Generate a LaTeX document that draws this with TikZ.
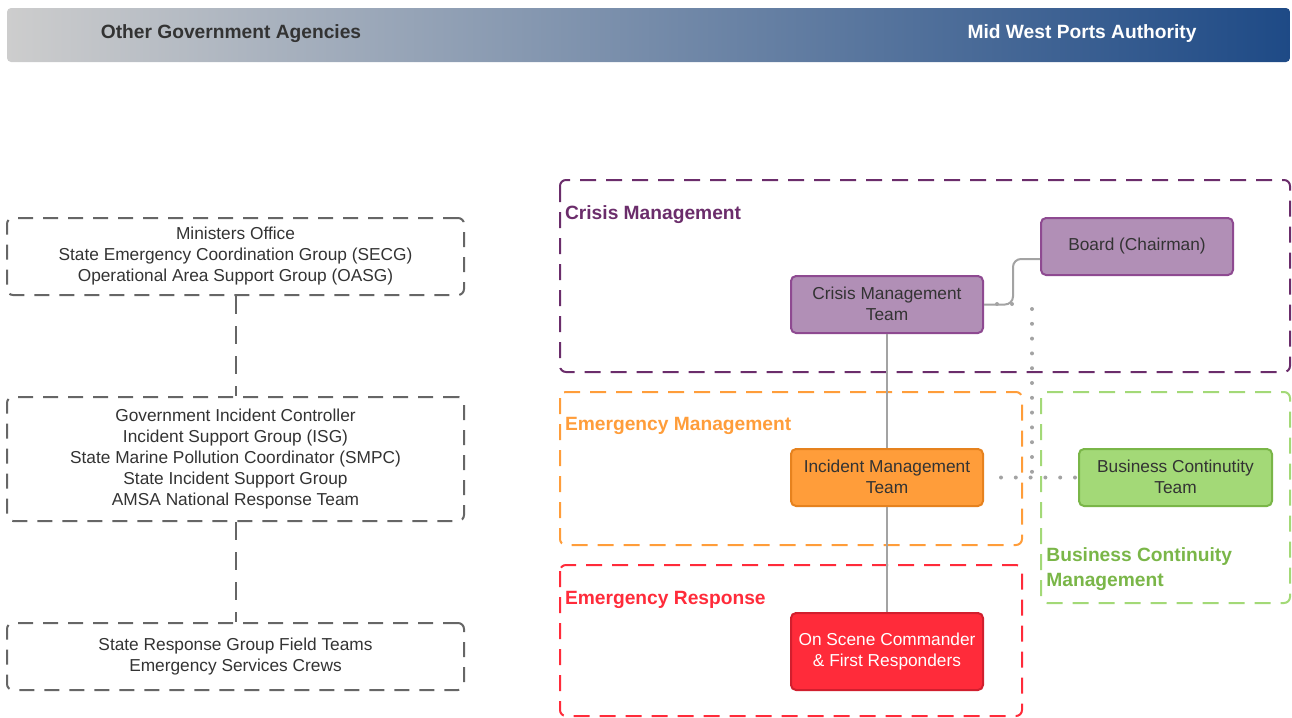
\documentclass[tikz,border=0pt]{standalone}
\usepackage{fontspec}
\setmainfont{Liberation Sans}

\definecolor{hdrgray}{HTML}{CDCDCD}
\definecolor{hdrblue}{HTML}{1E4A86}
\definecolor{txtdark}{HTML}{333333}
\definecolor{boxgray}{HTML}{666666}
\definecolor{linkgray}{HTML}{A3A3A3}
\definecolor{cmpurple}{HTML}{6B2D6B}
\definecolor{cmfill}{HTML}{B18FB6}
\definecolor{cmborder}{HTML}{8E4A91}
\definecolor{emorange}{HTML}{FF9D3A}
\definecolor{emborder}{HTML}{E6821E}
\definecolor{erred}{HTML}{FF2B3A}
\definecolor{erborder}{HTML}{D11F2E}
\definecolor{bcfill}{HTML}{A3D977}
\definecolor{bcborder}{HTML}{7AB648}

\tikzset{
  bodyfont/.style={font=\fontsize{8.65}{10.5}\selectfont},
  labelfont/.style={font=\bfseries\fontsize{9.6}{12.8}\selectfont},
  agency/.style={bodyfont, draw=boxgray, line width=1pt, dash pattern=on 7.5pt off 5pt,
    rounded corners=3pt, align=center, text=txtdark, minimum width=228.5pt, inner sep=0pt},
  team/.style={bodyfont, draw, line width=1pt, rounded corners=2.5pt, align=center,
    text=txtdark, minimum width=96pt, minimum height=28.5pt, inner sep=0pt},
  region/.style={line width=1pt, dash pattern=on 8pt off 5pt, rounded corners=3pt},
  link/.style={linkgray, line width=1pt},
  dotlink/.style={linkgray, line width=2pt, line cap=round, dash pattern=on 0pt off 7.4pt}
}

\begin{document}
\begin{tikzpicture}[x=0.5pt, y=-0.5pt]
  \useasboundingbox (0,0) rectangle (1292,718);

  %header bar
  \shade[left color=hdrgray, right color=hdrblue, rounded corners=2pt] (7,8) rectangle (1290,62);
  \node[labelfont, text=txtdark] (oga) at (231,34) {Other Government Agencies};
  \node[labelfont, text=white] (mwpa) at (1082,34) {Mid West Ports Authority};

  %other government agencies
  \node[agency, minimum height=38.5pt] (ministers) at (235.5,256.5)
    {Ministers Office\\State Emergency Coordination Group (SECG)\\Operational Area Support Group (OASG)};
  \node[agency, minimum height=62pt] (controller) at (235.5,459)
    {Government Incident Controller\\Incident Support Group (ISG)\\State Marine Pollution Coordinator (SMPC)\\State Incident Support Group\\AMSA National Response Team};
  \node[agency, minimum height=33.5pt] (fieldteams) at (235.5,656.5)
    {State Response Group Field Teams\\Emergency Services Crews};

  %dashed links between agencies
  \draw[boxgray, line width=1pt, dash pattern=on 9pt off 6pt] (ministers) -- (controller);
  \draw[boxgray, line width=1pt, dash pattern=on 9pt off 6pt] (controller) -- (fieldteams);

  %management regions
  \draw[region, cmpurple] (560,180) rectangle (1290,372);
  \draw[region, emorange] (560,392) rectangle (1022,545);
  \draw[region, erred] (560,565) rectangle (1022,716);
  \draw[region, bcfill] (1041,392) rectangle (1290,603);

  %region labels
  \node[labelfont, anchor=west, text=cmpurple] (cmlabel) at (558,215) {Crisis Management};
  \node[labelfont, anchor=west, text=emorange] (emlabel) at (558,426) {Emergency Management};
  \node[labelfont, anchor=west, text=erred] (erlabel) at (558,600) {Emergency Response};
  \node[labelfont, anchor=north west, align=left, text=bcborder, inner sep=0pt] (bclabel) at (1046,547)
    {Business Continuity\\Management};

  %teams
  \node[team, draw=cmborder, fill=cmfill] (board) at (1137,246.5) {Board (Chairman)};
  \node[team, draw=cmborder, fill=cmfill] (cmt) at (887,304.5) {\raisebox{1pt}{\shortstack{Crisis Management\\Team}}};
  \node[team, draw=emborder, fill=emorange] (imt) at (887,477.5) {\raisebox{1pt}{\shortstack{Incident Management\\Team}}};
  \node[team, draw=bcborder, fill=bcfill, minimum width=96.5pt] (bct) at (1175.5,477.5) {\raisebox{1pt}{\shortstack{Business Continutity\\Team}}};
  \node[team, draw=erborder, fill=erred, text=white, minimum height=38.5pt] (osc) at (887,651.5)
    {On Scene Commander\\\& First Responders};

  %solid links
  \draw[link] (cmt) -- (imt);
  \draw[link] (imt) -- (osc);
  \draw[link, rounded corners=4pt] (cmt.east) -- ++(29,0) |- ([yshift=-6.25pt]board.west);
  \foreach \x in {997,1012}
    \fill[linkgray] (\x,304) circle(2);

  %dotted links
  \coordinate (dotstart) at (1032,309);
  \draw[dotlink, shorten <=8.5pt] (imt.east) -- (bct.west);
  \draw[dotlink] (dotstart) -- (dotstart |- bct.west);
\end{tikzpicture}
\end{document}
